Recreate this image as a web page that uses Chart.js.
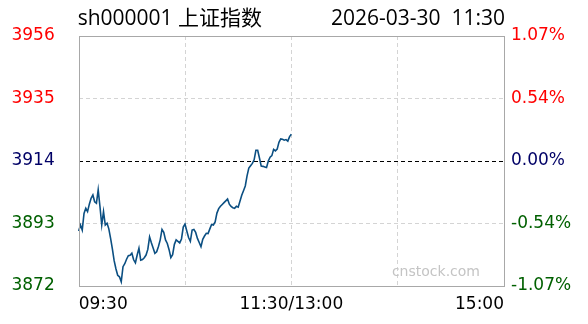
<!DOCTYPE html>
<html>
<head>
<meta charset="utf-8">
<script src="https://cdn.jsdelivr.net/npm/chart.js@4.4.1/dist/chart.umd.min.js"></script>
<style>
    html, body { margin: 0; padding: 0; background: #fff; }
    #wrap { width: 588px; height: 324px; }
</style>
</head>
<body>
<div id="wrap"><canvas id="chart" width="588" height="324"></canvas></div>
<script>
const title = 'sh000001 上证指数';
const stamp = '2026-03-30  11:30';
const prevClose = 3914;
const yTicks = [3872, 3893, 3914, 3935, 3956];
const tickLabels = ['09:30', '11:30/13:00', '15:00'];

// one price per minute, 09:30 - 11:30
const prices = [
    3890.5, 3892.5, 3890.8, 3896.4, 3898.1, 3897.0, 3899.5, 3901.5, 3902.6, 3900.3,
    3899.8, 3904.3, 3898.7, 3892.5, 3897.0, 3892.5, 3893.1, 3891.2, 3888.0, 3884.5,
    3880.5, 3877.8, 3875.6, 3875.1, 3873.4, 3878.5, 3879.5, 3881.0, 3882.2, 3882.3,
    3883.0, 3880.8, 3879.8, 3882.4, 3884.7, 3880.7, 3880.9, 3881.5, 3882.4, 3884.3,
    3888.5, 3886.5, 3884.8, 3883.0, 3883.5, 3885.3, 3887.5, 3891.0, 3890.0, 3887.5,
    3886.3, 3884.2, 3881.5, 3882.5, 3886.0, 3887.5, 3887.0, 3886.5, 3887.8, 3891.8,
    3892.8, 3890.5, 3888.3, 3887.0, 3890.8, 3891.0, 3890.0, 3888.0, 3886.6, 3885.2,
    3887.7, 3888.8, 3889.7, 3889.6, 3891.2, 3892.7, 3892.5, 3893.5, 3896.5, 3898.0,
    3898.8, 3899.4, 3900.0, 3900.6, 3901.2, 3899.5, 3898.7, 3898.3, 3898.1, 3898.8,
    3898.5, 3900.5, 3902.5, 3904.0, 3905.6, 3909.0, 3911.6, 3912.4, 3913.2, 3914.4,
    3917.6, 3917.6, 3915.0, 3912.3, 3912.2, 3912.0, 3911.8, 3914.0, 3915.3, 3915.8,
    3917.9, 3917.4, 3918.0, 3920.3, 3921.4, 3921.3, 3921.0, 3921.2, 3920.7, 3922.2,
    3923.0
];

// minute labels for the whole session, lunch break merged into one slot
const times = [];
function pushRange(h1, m1, h2, m2) {
    for (let t = h1 * 60 + m1; t <= h2 * 60 + m2; t++) {
        const h = String(Math.floor(t / 60)).padStart(2, '0');
        const m = String(t % 60).padStart(2, '0');
        times.push(h + ':' + m);
    }
}
pushRange(9, 30, 11, 29);
times.push('11:30/13:00');
pushRange(13, 1, 15, 0);

const pct = v => (v - prevClose) / prevClose * 100;
const tickColor = i => (i < 2 ? '#006000' : (i === 2 ? '#000066' : '#ff0000'));
const axisFont = { family: 'DejaVu Sans', size: 17 };

const framePlugin = {
    id: 'frame',
    afterDraw(chart) {
        const { ctx, chartArea: a } = chart;
        ctx.save();
        ctx.strokeStyle = '#a8a8a8';
        ctx.lineWidth = 1;
        ctx.strokeRect(Math.round(a.left) + 0.5, Math.round(a.top) + 0.5,
            Math.round(a.right - a.left), Math.round(a.bottom - a.top));

        ctx.fillStyle = '#000';
        ctx.font = "21px 'Open Sans', 'Noto Sans CJK SC'";
        ctx.textBaseline = 'middle';
        ctx.textAlign = 'left';
        ctx.fillText(title, a.left - 1, 19);
        ctx.textAlign = 'right';
        ctx.fillText(stamp, a.right + 1, 19);

        ctx.fillStyle = '#c4c4c4';
        ctx.font = "14px 'DejaVu Sans'";
        ctx.fillText('cnstock.com', a.right - 24, 272);
        ctx.restore();
    }
};

new Chart(document.getElementById('chart'), {
    type: 'line',
    data: {
        labels: times,
        datasets: [{
            data: prices,
            borderColor: '#0b4f82',
            borderWidth: 1.6,
            pointRadius: 0,
            tension: 0,
            fill: false
        }]
    },
    options: {
        responsive: false,
        animation: false,
        devicePixelRatio: 1,
        layout: { padding: { top: 36, left: 0, right: 0, bottom: 0 } },
        plugins: {
            legend: { display: false },
            tooltip: { enabled: false }
        },
        scales: {
            x: {
                afterFit: s => { s.height = 38; },
                grid: {
                    drawTicks: false,
                    color: c => ([60, 120, 180].includes(c.index) ? '#d4d4d4' : 'transparent')
                },
                border: { display: false, dash: [4, 3] },
                ticks: {
                    autoSkip: false,
                    maxRotation: 0,
                    align: 'inner',
                    padding: 8,
                    color: '#000',
                    font: axisFont,
                    callback: function (value) {
                        const lab = this.getLabelForValue(value);
                        return tickLabels.includes(lab) ? lab : '';
                    }
                }
            },
            y: {
                position: 'left',
                min: yTicks[0],
                max: yTicks[yTicks.length - 1],
                afterBuildTicks: s => { s.ticks = yTicks.map(v => ({ value: v })); },
                afterFit: s => { s.width = 78.7; },
                grid: {
                    drawTicks: false,
                    color: c => (c.index === 2 ? '#000' : (c.index === 1 || c.index === 3 ? '#d4d4d4' : 'transparent'))
                },
                border: { display: false, dash: [4, 3] },
                ticks: {
                    padding: 24,
                    font: axisFont,
                    color: c => tickColor(c.index),
                    callback: v => String(v)
                }
            },
            y1: {
                position: 'right',
                min: pct(yTicks[0]),
                max: pct(yTicks[yTicks.length - 1]),
                afterBuildTicks: s => { s.ticks = yTicks.map(v => ({ value: pct(v) })); },
                afterFit: s => { s.width = 84; },
                grid: { display: false, drawTicks: false },
                border: { display: false },
                ticks: {
                    padding: 7,
                    font: axisFont,
                    color: c => tickColor(c.index),
                    callback: v => v.toFixed(2) + '%'
                }
            }
        }
    },
    plugins: [framePlugin]
});
</script>
</body>
</html>
